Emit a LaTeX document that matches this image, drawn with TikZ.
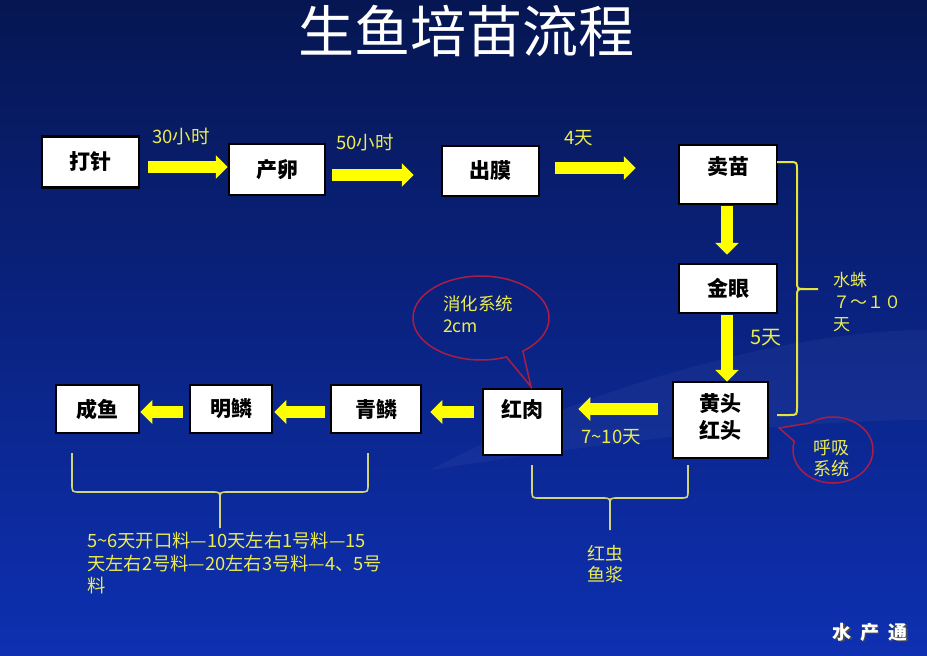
\documentclass[tikz,border=0pt]{standalone}
\usepackage{fontspec}
\setmainfont{Noto Sans CJK SC}
\usetikzlibrary{arrows.meta,calc}
\definecolor{bgtop}{RGB}{6,22,82}
\definecolor{bgmid}{RGB}{10,38,150}
\definecolor{bgbot}{RGB}{14,48,178}
\definecolor{arrowyellow}{RGB}{255,255,0}
\definecolor{labelyellow}{RGB}{236,236,80}
\definecolor{braceyellow}{RGB}{228,228,60}
\definecolor{palebrace}{RGB}{210,212,120}
\definecolor{calloutred}{RGB}{170,30,70}
\tikzset{
  stagebox/.style={draw=black, line width=2.5pt, fill=white, inner sep=0pt,
    font=\fontsize{21}{25}\selectfont\bfseries, text=black, align=center},
  barrow/.style={draw=arrowyellow, line width=12pt,
    -{Triangle[length=12pt,width=23pt]}},
  lbl/.style={text=labelyellow, font=\fontsize{18.5}{21}\selectfont, inner sep=0pt},
  bracelbl/.style={text=labelyellow, font=\fontsize{17}{22}\selectfont, inner sep=0pt, align=left},
  rbrace/.style={draw=braceyellow, line width=2pt},
  bbrace/.style={draw=palebrace, line width=1.6pt},
  callout/.style={draw=calloutred, line width=1.5pt}
}
\begin{document}
\begin{tikzpicture}[x=1pt,y=-1pt]
\useasboundingbox (0,0) rectangle (927,656);
\shade[top color=bgtop, middle color=bgmid, bottom color=bgbot] (0,0) rectangle (927,656);
% subtle light wave
\fill[white, opacity=0.04] (430,470) .. controls (600,380) and (800,330) .. (927,330) -- (927,420) .. controls (800,420) and (620,440) .. (430,470) -- cycle;

% title
\node[text=white, font=\fontsize{56}{60}\selectfont, inner sep=0pt] (title) at (466,31) {生鱼培苗流程};

% boxes
\node[stagebox, minimum width=97pt, minimum height=51pt] (dz) at (90.5,162) {打针};
\node[stagebox, minimum width=96pt, minimum height=51pt] (cl) at (277,169.5) {产卵};
\node[stagebox, minimum width=97pt, minimum height=50pt] (cm) at (490.5,171) {出膜};
\node[stagebox, minimum width=98pt, minimum height=59pt] (mm) at (728,174.5) {\raisebox{8pt}[\height][\depth]{卖苗}};
\node[stagebox, minimum width=98pt, minimum height=49pt] (jy) at (728,288.5) {金眼};
\node[stagebox, minimum width=95pt, minimum height=76pt, font=\fontsize{21}{27}\selectfont\bfseries] (ht) at (720.5,420) {\raisebox{3pt}[\height][\depth]{黄头}\\\raisebox{3pt}[\height][\depth]{红头}};
\node[stagebox, minimum width=79pt, minimum height=66pt] (hr) at (522.5,422) {\raisebox{13pt}[\height][\depth]{红肉}};
\node[stagebox, minimum width=90pt, minimum height=48pt] (ql) at (376,409) {青鳞};
\node[stagebox, minimum width=82pt, minimum height=48pt] (ml) at (231,409) {明鳞};
\node[stagebox, minimum width=83pt, minimum height=48pt] (cy) at (97.5,409) {成鱼};

% arrows
\draw[barrow] ($(dz.east)+(8,5)$) -- ($(cl.west)+(0,-2.5)$);
\draw[barrow] ($(cl.east)+(6,5.5)$) -- ($(cm.west)+(-27,4)$);
\draw[barrow] ($(cm.east)+(15,-3)$) -- ($(mm.west)+(-42,-6.5)$);
\draw[barrow] ($(mm.south)+(-1,1)$) -- ($(jy.north)+(-1,-8)$);
\draw[barrow] ($(jy.south)+(-1,1)$) -- ($(ht.north)+(6.5,1)$);
\draw[barrow] ($(ht.west)+(-14,-11)$) -- ($(hr.east)+(15,-13)$);
\draw[barrow] ($(hr.west)+(-8,-10)$) -- ($(ql.east)+(8,3)$);
\draw[barrow] ($(ql.west)+(-5,3)$) -- ($(ml.east)+(1,3)$);
\draw[barrow] ($(ml.west)+(-6,3)$) -- ($(cy.east)+(0,3)$);

% arrow labels
\node[lbl] (l30) at (181,137) {30小时};
\node[lbl] (l50) at (365,143) {50小时};
\node[lbl] (l4) at (579,138) {4天};
\node[lbl, font=\fontsize{20}{22}\selectfont] (l5) at (766,338) {5天};
\node[lbl] (l710) at (611,437) {7\textasciitilde10天};

% right brace
\draw[rbrace] (777,162) -- (789,162) .. controls (797,162) .. (797,170) -- (797,281) .. controls (797,289) .. (805,289) -- (818,289);
\draw[rbrace] (777,415) -- (789,415) .. controls (797,415) .. (797,407) -- (797,297) .. controls (797,289) .. (805,289);
\node[bracelbl, anchor=north west] (sz) at (833,272) {水蛛\\ ７～１０\\天};

% bottom brace 1
\draw[bbrace] (72,453) -- (72,484) .. controls (72,492) .. (80,492) -- (212,492) .. controls (220,492) .. (220,500) -- (220,528);
\draw[bbrace] (368,453) -- (368,484) .. controls (368,492) .. (360,492) -- (228,492) .. controls (220,492) .. (220,500);
\node[bracelbl, anchor=north west, font=\fontsize{18.3}{22.5}\selectfont] (feed) at (87,532) {5\textasciitilde6天开口料—10天左右1号料—15\\天左右2号料—20左右3号料—4、5号\\料};

% bottom brace 2
\draw[bbrace] (532,465) -- (532,490) .. controls (532,498) .. (540,498) -- (602,498) .. controls (610,498) .. (610,506) -- (610,530);
\draw[bbrace] (688,465) -- (688,490) .. controls (688,498) .. (680,498) -- (618,498) .. controls (610,498) .. (610,506);
\node[bracelbl, align=center, font=\fontsize{18}{21}\selectfont] (hc) at (605,564) {红虫\\鱼浆};

% callout 1
\coordinate (tip1) at ($(hr.north)+(8.5,-1)$);
\draw[callout] plot[domain=68:412, samples=90] ({481+68*cos(\x)},{318+42*sin(\x)}) -- (tip1) -- cycle;
\node[lbl, anchor=north west, align=left, font=\fontsize{17.5}{22}\selectfont] (xh) at (443,296) {消化系统\\2cm};

% callout 2
\coordinate (tip2) at ($(ht.east)+(10,8)$);
\draw[callout] plot[domain=235:555, samples=90] ({833+40*cos(\x)},{450+33*sin(\x)}) -- (tip2) -- cycle;
\node[lbl, align=center, font=\fontsize{18}{21}\selectfont] (hx) at (831,458) {呼吸\\系统};

% watermark
\node[text=black!70, font=\fontsize{19}{22}\selectfont\bfseries, inner sep=0pt] (wm2) at (871.5,633.5) {水\hspace{9pt}产\hspace{9pt}通};
\node[text=white, font=\fontsize{19}{22}\selectfont\bfseries, inner sep=0pt] (wm) at (870,632) {水\hspace{9pt}产\hspace{9pt}通};
\end{tikzpicture}
\end{document}
